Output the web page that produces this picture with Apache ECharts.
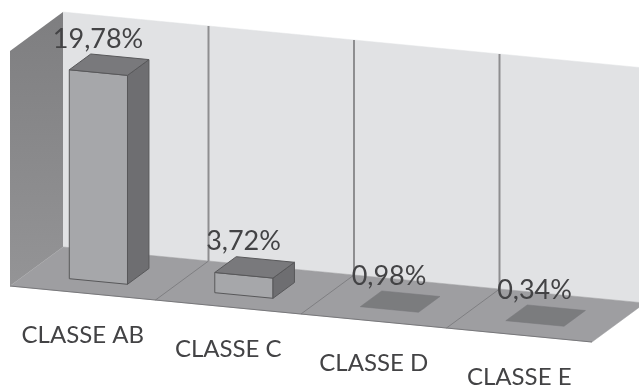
<!DOCTYPE html>
<html><head><meta charset="utf-8">
<style>html,body{margin:0;padding:0;background:#fff}#c{width:639px;height:385px}</style>
<script src="https://cdn.jsdelivr.net/npm/echarts@6/dist/echarts.min.js"></script>
</head><body><div id="c"></div>
<script>
const categories = ['CLASSE AB', 'CLASSE C', 'CLASSE D', 'CLASSE E'];
const values = [19.78, 3.72, 0.98, 0.34];
const axisMin = 2;
const axisMax = 22;

const GRID = {left: 10, top: 51, width: 582, height: 235};
const SHEAR = 56 / 582, DX = 53, DY = -39;
const D0 = 0.295, D1 = 0.70, BAR = 0.4;
const FONT = 'Lato, Carlito, "Open Sans", sans-serif';
const TEXT = '#434345';

function project(p, d) {
  return [p[0] + DX * d, p[1] + (p[0] - GRID.left) * SHEAR + DY * d];
}
function poly(points, fill, stroke, lw) {
  return {type: 'polygon', shape: {points},
    style: {fill, stroke: stroke || fill, lineWidth: lw === undefined ? 0.5 : lw}};
}
function line(a, b, stroke, lw) {
  return {type: 'line', shape: {x1: a[0], y1: a[1], x2: b[0], y2: b[1]}, style: {stroke, lineWidth: lw}};
}

function renderFrame(params, api) {
  const band = api.size([1, 0])[0];
  const c0 = api.coord([0, axisMin]);
  const top = api.coord([0, axisMax])[1];
  const bottom = c0[1];
  const left = c0[0] - band / 2;
  const right = left + band * categories.length;
  const at = (x, y, d) => project([x, y], d);
  const kids = [];
  kids.push(poly([at(left, top, 1), at(right, top, 1), at(right, bottom, 1), at(left, bottom, 1)], '#e1e2e4'));
  kids.push({type: 'polygon',
    shape: {points: [at(left, top, 0), at(left, top, 1), at(left, bottom, 1), at(left, bottom, 0)]},
    style: {fill: new echarts.graphic.LinearGradient(0, 0, 0, 1, [
      {offset: 0, color: '#7e7e80'}, {offset: 1, color: '#949496'}])}});
  for (let i = 1; i < categories.length; i++) {
    const x = left + band * i;
    kids.push(line(at(x, top, 1), at(x, bottom, 1), '#8e8e90', 2));
  }
  kids.push(poly([at(left, bottom, 0), at(left, bottom, 1), at(right, bottom, 1), at(right, bottom, 0)], '#9e9ea1'));
  for (let i = 1; i < categories.length; i++) {
    const x = left + band * i;
    kids.push(line(at(x, bottom, 0), at(x, bottom, 1), '#7f7f82', 1));
  }
  kids.push(line(at(left, bottom, 0), at(right, bottom, 0), '#77777a', 1.2));
  return {type: 'group', children: kids};
}

function renderBar(params, api) {
  const i = api.value(0);
  const v = Math.max(axisMin, api.value(1));
  const band = api.size([1, 0])[0];
  const base = api.coord([i, axisMin]);
  const head = api.coord([i, v]);
  const half = band * BAR / 2;
  const xl = base[0] - half, xr = base[0] + half;
  const b = base[1], t = head[1];
  const kids = [];
  const edge = '#58585a';
  if (b - t > 0.5) {
    kids.push(poly([project([xl, t], D0), project([xr, t], D0), project([xr, b], D0), project([xl, b], D0)], '#a6a7aa', edge, 1));
    kids.push(poly([project([xr, t], D0), project([xr, t], D1), project([xr, b], D1), project([xr, b], D0)], '#6e6e71', edge, 1));
    kids.push(poly([project([xl, t], D0), project([xl, t], D1), project([xr, t], D1), project([xr, t], D0)], '#79797c', edge, 1));
  } else {
    kids.push(poly([project([xl, t], D0), project([xl, t], D1), project([xr, t], D1), project([xr, t], D0)], '#7b7c7e', '#77777a', 0.5));
  }
  const lp = project([base[0], t], 0.515);
  const txt = api.value(1).toFixed(2).replace('.', ',') + '%';
  kids.push({type: 'text', x: lp[0] - 12, y: lp[1] - 25,
    style: {text: txt, font: '27px ' + FONT, fill: TEXT, align: 'center', verticalAlign: 'middle'}});
  const np = project([base[0], b], 0);
  kids.push({type: 'text', x: np[0], y: np[1] + 42.5,
    style: {text: categories[i], font: '24px ' + FONT, fill: TEXT, align: 'center', verticalAlign: 'middle'}});
  return {type: 'group', children: kids};
}

const chart = echarts.init(document.getElementById('c'), null, {renderer: 'canvas'});
chart.setOption({
  animation: false,
  backgroundColor: '#ffffff',
  grid: GRID,
  xAxis: {type: 'category', data: categories, show: false},
  yAxis: {type: 'value', min: axisMin, max: axisMax, show: false},
  series: [
    {type: 'custom', clip: false, renderItem: renderFrame, data: [[0, axisMin]], encode: {x: 0, y: 1}, z: 1, silent: true},
    {type: 'custom', clip: false, renderItem: renderBar, data: values.map((v, i) => [i, v]), encode: {x: 0, y: 1}, z: 2}
  ]
});
</script></body></html>
